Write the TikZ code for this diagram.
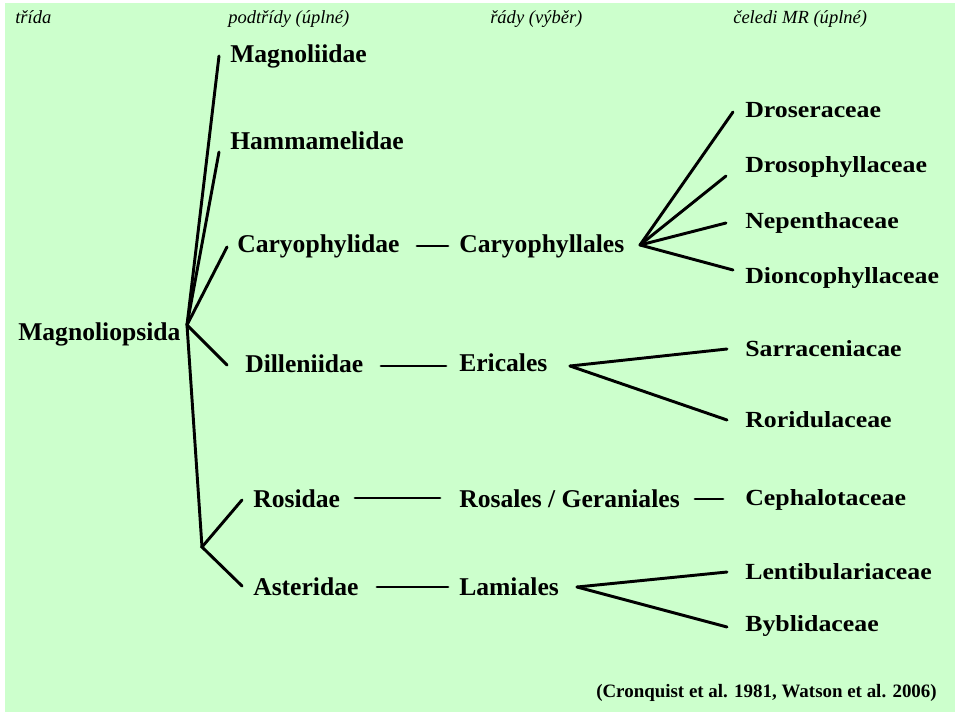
\documentclass[tikz,border=0pt]{standalone}
\usepackage{fontspec}
\setmainfont{Liberation Serif}
\newfontfamily\famfont[FakeStretch=1.12]{Liberation Serif}
\definecolor{leaf}{RGB}{204,255,204}
\tikzset{
  head/.style={anchor=base west, inner sep=0pt, font=\itshape\fontsize{13.9}{16}\selectfont},
  taxon/.style={anchor=base west, inner sep=0pt, font=\bfseries\fontsize{19.2}{22}\selectfont},
  family/.style={anchor=base west, inner sep=0pt, font=\famfont\bfseries\fontsize{17.3}{20}\selectfont},
  cite/.style={anchor=base west, inner sep=0pt, font=\bfseries\fontsize{14.2}{16}\selectfont},
  branch/.style={line width=2.2pt, line cap=round}
}

\begin{document}
\begin{tikzpicture}[x=0.75pt, y=-0.75pt]
\useasboundingbox (0,0) rectangle (960,716);
\fill[white] (0,0) rectangle (960,716);
\fill[leaf] (5,3) rectangle (955,712);
% column headings
\node[head] (hcls) at (15,24) {třída};
\node[head] (hsub) at (228,24) {podtřídy (úplné)};
\node[head] (hord) at (490,24) {řády (výběr)};
\node[head] (hfam) at (733,24) {čeledi MR (úplné)};
% class and subclasses
\node[taxon] (magps) at (18,341) {Magnoliopsida};
\node[taxon] (magn) at (230,63) {Magnoliidae};
\node[taxon] (hamm) at (230,150) {Hammamelidae};
\node[taxon] (caryd) at (237,253) {Caryophylidae};
\node[taxon] (dill) at (245,373) {Dilleniidae};
\node[taxon] (rosd) at (253,507) {Rosidae};
\node[taxon] (astd) at (253,595) {Asteridae};
% orders
\node[taxon] (caryl) at (459,253) {Caryophyllales};
\node[taxon] (eric) at (459,372) {Ericales};
\node[taxon] (rosl) at (459,507) {Rosales / Geraniales};
\node[taxon] (laml) at (459,595) {Lamiales};
% families
\node[family] (dros) at (745,118) {Droseraceae};
\node[family] (drph) at (745,173) {Drosophyllaceae};
\node[family] (nep) at (745,229) {Nepenthaceae};
\node[family] (dion) at (745,284) {Dioncophyllaceae};
\node[family] (sarr) at (745,357) {Sarraceniacae};
\node[family] (rori) at (745,427) {Roridulaceae};
\node[family] (ceph) at (745,505) {Cephalotaceae};
\node[family] (lent) at (745,579) {Lentibulariaceae};
\node[family] (bybl) at (745,631) {Byblidaceae};
\node[cite] (src) at (596,697) {(Cronquist et al. 1981, Watson et al. 2006)};
% branch points and line ends
\foreach \n/\x/\y in {root/187/325, low/202/547,
  magn-in/219/56, hamm-in/219/152, caryd-in/227/247, dill-in/227/365,
  rosd-in/242/500, astd-in/242/586,
  caryd-out/417/246, caryl-in/448/246, dill-out/381/366, eric-in/446/366,
  rosd-out/355/498, rosl-in/440/498, astd-out/377/587, laml-in/448/587,
  rosl-out/695/499, ceph-in/723/499,
  caryl-out/640/245, dros-in/733/112, drph-in/726/176, nep-in/726/223, dion-in/733/270,
  eric-out/570/366, sarr-in/727/349, rori-in/727/420,
  laml-out/577/587, lent-in/727/572, bybl-in/727/627}
  \coordinate (\n) at (\x,\y);
\foreach \t in {magn,hamm,caryd,dill} \draw[branch] (root) -- (\t-in);
\draw[branch] (root) -- (low);
\draw[branch] (rosd-in) -- (low) -- (astd-in);
\foreach \a/\b in {caryd/caryl, dill/eric, rosd/rosl, astd/laml, rosl/ceph}
  \draw[branch] (\a-out) -- (\b-in);
\foreach \t in {dros,drph,nep,dion} \draw[branch] (caryl-out) -- (\t-in);
\foreach \t in {sarr,rori} \draw[branch] (eric-out) -- (\t-in);
\foreach \t in {lent,bybl} \draw[branch] (laml-out) -- (\t-in);
\end{tikzpicture}
\end{document}
